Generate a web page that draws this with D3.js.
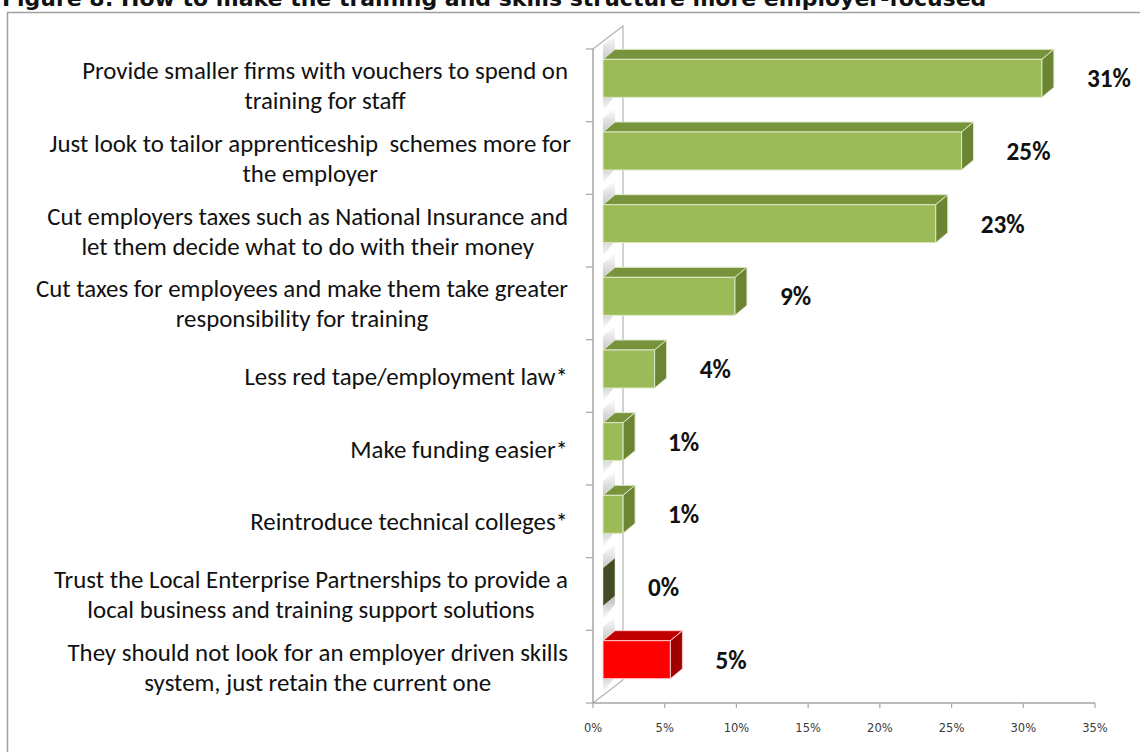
<!DOCTYPE html>
<html>
<head>
<meta charset="utf-8">
<script src="https://cdn.jsdelivr.net/npm/d3@7"></script>
<style>
  html, body { margin: 0; padding: 0; background: #fff; overflow: hidden; }
  svg { display: block; }
</style>
</head>
<body>
<svg id="chart" width="1140" height="752"></svg>
<script>
// ---------------- data ----------------
const title = "Figure 8: How to make the training and skills structure more employer-focused";
const categories = [
  ["Provide smaller firms with vouchers to spend on", "training for staff"],
  ["Just look to tailor apprenticeship  schemes more for", "the employer"],
  ["Cut employers taxes such as National Insurance and", "let them decide what to do with their money"],
  ["Cut taxes for employees and make them take greater", "responsibility for training"],
  ["Less red tape/employment law*"],
  ["Make funding easier*"],
  ["Reintroduce technical colleges*"],
  ["Trust the Local Enterprise Partnerships to provide a", "local business and training support solutions"],
  ["They should not look for an employer driven skills", "system, just retain the current one"]
];
const values = [30.6, 25.0, 23.2, 9.2, 3.6, 1.4, 1.4, 0, 4.7];
const highlightIndex = 8;
const xTicks = [0, 5, 10, 15, 20, 25, 30, 35];

// ---------------- layout ----------------
const svg = d3.select("#chart");
const labelFamily = "Carlito, Lato, 'Open Sans', sans-serif";
const tickFamily = "'DejaVu Sans', Verdana, sans-serif";

const x = d3.scaleLinear().domain([0, 35]).range([593, 1095]);
const y = d3.scaleBand().domain(d3.range(categories.length)).range([49, 703]);

const wallDepth = { dx: 30, dy: -23 };
const barOffset = { dx: 10, dy: -7 };
const barDepth = { dx: 12, dy: -10 };
const barH = 38;

function measure(text, family, weight, size) {
  const t = svg.append("text").attr("font-family", family).attr("font-weight", weight)
    .attr("font-size", size).text(text);
  const w = t.node().getComputedTextLength();
  t.remove();
  return w;
}
function fitSize(text, family, weight, target) {
  return 100 * target / measure(text, family, weight, 100);
}

// frame
svg.append("path").attr("d", "M7.5,760 V12.5 H1145")
  .attr("fill", "none").attr("stroke", "#a0a0a0").attr("stroke-width", 1.5);

// title (cut off at top)
const titleSize = fitSize(title, tickFamily, "bold", 985);
svg.append("text").attr("x", 2).attr("y", 6)
  .attr("font-family", tickFamily).attr("font-weight", "bold")
  .attr("font-size", titleSize).attr("fill", "#111").text(title);

// defs: wall shadow gradient
const defs = svg.append("defs");
const g1 = defs.append("linearGradient").attr("id", "wallShade").attr("x1", 0).attr("y1", 0).attr("x2", 0).attr("y2", 1);
g1.append("stop").attr("offset", "0%").attr("stop-color", "#fff");
g1.append("stop").attr("offset", "30%").attr("stop-color", "#c4c4c4");
g1.append("stop").attr("offset", "75%").attr("stop-color", "#c4c4c4");
g1.append("stop").attr("offset", "100%").attr("stop-color", "#fff");

// wall
const x0 = x(0), yTop = y.range()[0], yBot = y.range()[1];
const wall = svg.append("g");
wall.append("path")
  .attr("d", `M${x0},${yTop} L${x0 + wallDepth.dx},${yTop + wallDepth.dy} L${x0 + wallDepth.dx},${yBot + wallDepth.dy} L${x0},${yBot} Z`)
  .attr("fill", "#fff").attr("stroke", "none");

// wall shading behind each bar
values.forEach((v, i) => {
  const yc = y(i) + y.bandwidth() / 2 + barOffset.dy;
  const top = yc - barH / 2, bot = yc + barH / 2;
  const bx = x0 + barOffset.dx;
  wall.append("path")
    .attr("d", `M${bx},${top - 14} L${bx + barDepth.dx},${top - 24} L${bx + barDepth.dx},${bot - 2} L${bx},${bot + 14} Z`)
    .attr("fill", "url(#wallShade)").attr("opacity", 0.9);
});

wall.append("path")
  .attr("d", `M${x0 + wallDepth.dx},${yBot + wallDepth.dy} V${yTop + wallDepth.dy} L${x0},${yTop} M${x0},${yBot} L${x0 + wallDepth.dx},${yBot + wallDepth.dy}`)
  .attr("fill", "none").attr("stroke", "#b4b4b4").attr("stroke-width", 1.2);
wall.append("path")
  .attr("d", `M${x0},${yTop} V${yBot}`)
  .attr("fill", "none").attr("stroke", "#a6a6a6").attr("stroke-width", 1.5);

// category ticks
const bounds = d3.range(categories.length + 1).map(k => yTop + k * y.step());
svg.append("g").selectAll("line").data(bounds).join("line")
  .attr("x1", x0 - 7).attr("x2", x0).attr("y1", d => d).attr("y2", d => d)
  .attr("stroke", "#a6a6a6").attr("stroke-width", 1.2);

// x axis
const xAxis = svg.append("g");
xAxis.append("line").attr("x1", x0).attr("x2", x(35)).attr("y1", yBot).attr("y2", yBot)
  .attr("stroke", "#a6a6a6").attr("stroke-width", 1.5);
xAxis.selectAll("line.tick").data(xTicks).join("line").attr("class", "tick")
  .attr("x1", d => x(d)).attr("x2", d => x(d)).attr("y1", yBot).attr("y2", yBot + 5)
  .attr("stroke", "#a6a6a6").attr("stroke-width", 1.2);
xAxis.selectAll("text").data(xTicks).join("text")
  .attr("x", d => x(d)).attr("y", 732).attr("text-anchor", "middle")
  .attr("font-family", tickFamily).attr("font-size", 11.5).attr("fill", "#3a3a3a")
  .text(d => d + "%");

// bars
const green = { front: "#9bbb59", top: "#77933c", side: "#6b8535", edge: "#dfe9c8" };
const red = { front: "#ff0000", top: "#c00000", side: "#a00000", edge: "#ffc8c8" };
const bars = svg.append("g");
values.forEach((v, i) => {
  const c = i === highlightIndex ? red : green;
  const yc = y(i) + y.bandwidth() / 2 + barOffset.dy;
  const top = yc - barH / 2, bot = yc + barH / 2;
  const bx0 = x(0) + barOffset.dx, bx1 = x(v) + barOffset.dx;
  const dx = barDepth.dx, dy = barDepth.dy;
  const g = bars.append("g").attr("stroke-linejoin", "round");
  if (v > 0) {
    g.append("path").attr("d", `M${bx0},${top} L${bx0 + dx},${top + dy} L${bx1 + dx},${top + dy} L${bx1},${top} Z`)
      .attr("fill", c.top).attr("stroke", c.edge).attr("stroke-width", 1);
    g.append("rect").attr("x", bx0).attr("y", top).attr("width", bx1 - bx0).attr("height", barH)
      .attr("fill", c.front).attr("stroke", c.edge).attr("stroke-width", 1);
  }
  g.append("path").attr("d", `M${bx1},${top} L${bx1 + dx},${top + dy} L${bx1 + dx},${bot + dy} L${bx1},${bot} Z`)
    .attr("fill", v > 0 ? c.side : "#414c24").attr("stroke", c.edge).attr("stroke-width", v > 0 ? 1 : 0.5);
});

// value labels
const valSize = fitSize("31%", labelFamily, "bold", 44);
svg.append("g").selectAll("text").data(values).join("text")
  .attr("x", v => x(v) + barOffset.dx + barDepth.dx + 33)
  .attr("y", (v, i) => y(i) + y.bandwidth() / 2 + barOffset.dy + valSize * 0.36)
  .attr("font-family", labelFamily).attr("font-weight", "bold").attr("font-size", valSize)
  .attr("fill", "#111")
  .text(v => d3.format(".0%")(v / 100));

// category labels
const catSize = fitSize(categories[0][0], labelFamily, "normal", 486);
const lineH = 30;
const catG = svg.append("g");
categories.forEach((lines, i) => {
  const widths = lines.map(l => measure(l, labelFamily, "normal", catSize));
  const maxW = d3.max(widths);
  const cx = 568 - maxW / 2;
  const cy = y(i) + y.bandwidth() / 2;
  lines.forEach((l, j) => {
    const lc = cy + (j - (lines.length - 1) / 2) * lineH;
    catG.append("text").attr("x", cx).attr("y", lc + catSize * 0.36)
      .attr("text-anchor", "middle").attr("font-family", labelFamily)
      .attr("font-size", catSize).attr("fill", "#111").attr("xml:space", "preserve")
      .style("white-space", "pre")
      .text(l);
  });
});
</script>
</body>
</html>
